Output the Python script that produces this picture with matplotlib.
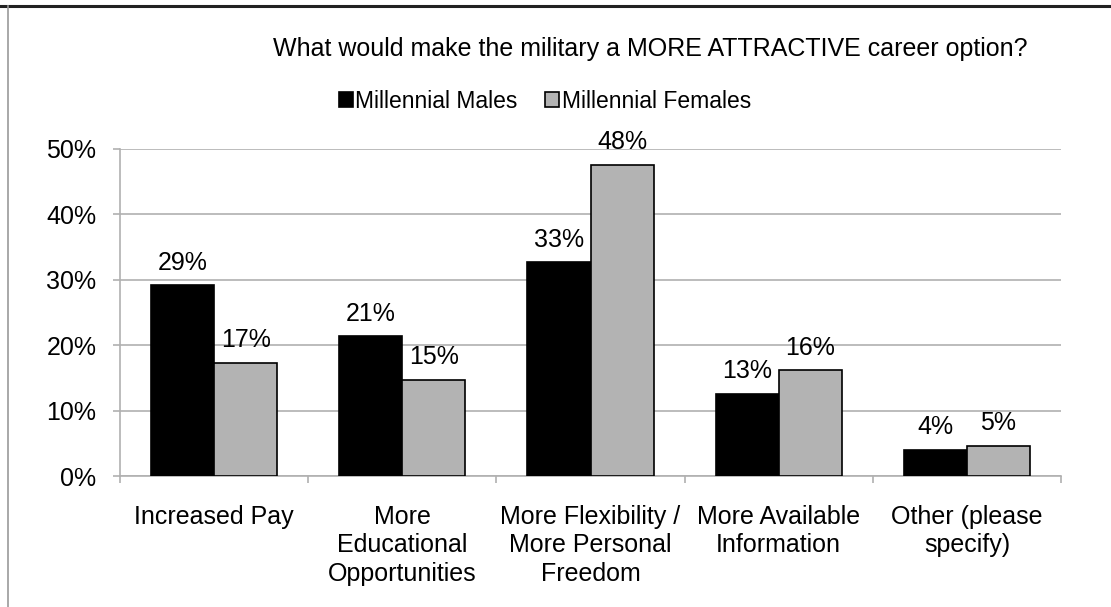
import matplotlib
matplotlib.use("Agg")
import matplotlib.pyplot as plt
import numpy as np
from matplotlib.lines import Line2D

plt.rcParams['font.family'] = ['Liberation Sans', 'DejaVu Sans']

categories = ["Increased Pay", "More\nEducational\nOpportunities",
              "More Flexibility /\nMore Personal\nFreedom",
              "More Available\nInformation", "Other (please\nspecify)"]
males = [29.2, 21.4, 32.7, 12.6, 4.0]
females = [17.3, 14.7, 47.6, 16.2, 4.6]
yticks = [0, 10, 20, 30, 40, 50]

grid_col = "#b0b0b0"
fs = 18

fig = plt.figure(figsize=(11.11, 6.07), dpi=100)
ax = fig.add_axes([120 / 1111, 1 - 476 / 607, 941 / 1111, 327 / 607])

x = np.arange(len(categories))
w = 0.335
b1 = ax.bar(x - w / 2, males, w, color="black", edgecolor="black",
            linewidth=1.2, label="Millennial Males", zorder=3)
b2 = ax.bar(x + w / 2, females, w, color="#b3b3b3", edgecolor="black",
            linewidth=1.2, label="Millennial Females", zorder=3)

for bars in (b1, b2):
    for r in bars:
        v = r.get_height()
        ax.text(r.get_x() + r.get_width() / 2, v + 1.6, f"{v:.0f}%",
                ha="center", va="bottom", fontsize=fs)

ax.set_xlim(-0.5, len(categories) - 0.5)
ax.set_ylim(0, 50)
ax.set_yticks(yticks)
ax.set_yticklabels([f"{t}%" for t in yticks], fontsize=fs)
ax.yaxis.grid(True, color=grid_col, linewidth=1.2, zorder=0)

# category labels centred, ticks on the boundaries
ax.set_xticks(x)
ax.set_xticklabels(categories, fontsize=fs, linespacing=1.22)
ax.tick_params(axis="x", length=0, pad=21)
ax.set_xticks(np.arange(len(categories) + 1) - 0.5, minor=True)
ax.tick_params(axis="x", which="minor", length=5, color=grid_col, width=1.2)
ax.tick_params(axis="y", length=5, color=grid_col, width=1.2, pad=12)

for s in ("top", "right"):
    ax.spines[s].set_visible(False)
for s in ("left", "bottom"):
    ax.spines[s].set_color(grid_col)
    ax.spines[s].set_linewidth(1.2)

fig.text(650 / 1111, 1 - 49 / 607,
         "What would make the military a MORE ATTRACTIVE career option?",
         ha="center", va="center", fontsize=fs)

fig.legend(handles=[b1, b2], loc="center", bbox_to_anchor=(545 / 1111, 1 - 101 / 607),
           ncol=2, frameon=False, fontsize=16.5, handlelength=0.6, handleheight=0.6,
           handletextpad=0.12, columnspacing=1.2, borderaxespad=0)

# page frame: black rule on top, grey rule on the left
fig.add_artist(Line2D([0, 1], [1 - 6 / 607] * 2, color="#222222", linewidth=2.2,
                      transform=fig.transFigure))
fig.add_artist(Line2D([8 / 1111] * 2, [0, 1 - 6 / 607], color="#999999", linewidth=1.2,
                      transform=fig.transFigure))

fig.savefig("out.png", dpi=100)
